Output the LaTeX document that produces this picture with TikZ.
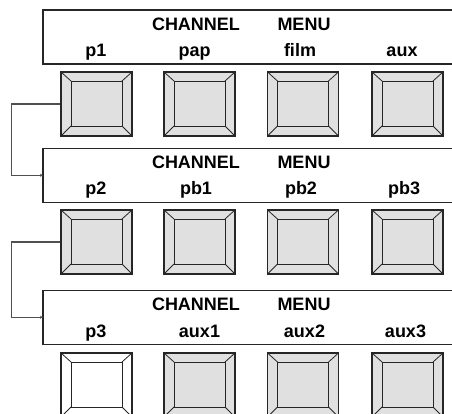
\documentclass[tikz,border=0pt]{standalone}
\usepackage{fontspec}
\setmainfont{Liberation Sans}
\usetikzlibrary{arrows.meta}
\definecolor{btnfill}{HTML}{E0E0E0}
\definecolor{linegray}{HTML}{505050}
\definecolor{edgecol}{HTML}{262626}
\begin{document}
\begin{tikzpicture}[x=1pt,y=-1pt,
  btn/.style={draw=edgecol, line width=1.2pt, fill=btnfill, minimum width=71pt,
    minimum height=64pt, inner sep=0pt,
    path picture={
      \draw[line width=0.8pt, edgecol]
        ([shift={(10pt,10pt)}]path picture bounding box.south west) rectangle
        ([shift={(-10pt,-9pt)}]path picture bounding box.north east);
      \draw[line width=0.8pt, edgecol]
        (path picture bounding box.south west) -- ++(10pt,10pt)
        (path picture bounding box.south east) -- ++(-10pt,10pt)
        (path picture bounding box.north west) -- ++(10pt,-9pt)
        (path picture bounding box.north east) -- ++(-10pt,-9pt);
    }},
  whitebtn/.style={btn, fill=white},
  lbl/.style={font=\fontsize{18}{20}\selectfont\bfseries, anchor=base, inner sep=0pt},
  panelbox/.style={inner sep=0pt, minimum width=412pt, minimum height=53.5pt, anchor=north west},
  panelline/.style={draw=edgecol, line width=1.2pt},
  conn/.style={draw=linegray, line width=1.1pt, -{Stealth[length=3pt,width=3pt]}}]
\useasboundingbox (0,0) rectangle (452,413);

% panels
\node[panelbox] (pan1) at (43,10) {};
\node[panelbox] (pan2) at (43,148.3) {};
\node[panelbox] (pan3) at (43,290.3) {};
\foreach \p in {pan1,pan2,pan3}{
  \draw[panelline] (\p.north east) -- (\p.north west) -- (\p.south west) -- (\p.south east);
}

% panel texts
\node[lbl] (t1c) at (196,30.5) {CHANNEL};
\node[lbl] (t1m) at (304,30.5) {MENU};
\node[lbl] (t1a) at (96,56.5) {p1};
\node[lbl] (t1b) at (194.5,56.5) {pap};
\node[lbl] (t1d) at (300,56.5) {film};
\node[lbl] (t1e) at (402,56.5) {aux};

\node[lbl] (t2c) at (196,168.8) {CHANNEL};
\node[lbl] (t2m) at (304,168.8) {MENU};
\node[lbl] (t2a) at (96,194.8) {p2};
\node[lbl] (t2b) at (196,194.8) {pb1};
\node[lbl] (t2d) at (301,194.8) {pb2};
\node[lbl] (t2e) at (404,194.8) {pb3};

\node[lbl] (t3c) at (196,310.8) {CHANNEL};
\node[lbl] (t3m) at (304,310.8) {MENU};
\node[lbl] (t3a) at (96,337) {p3};
\node[lbl] (t3b) at (199.5,337) {aux1};
\node[lbl] (t3d) at (304.5,337) {aux2};
\node[lbl] (t3e) at (405.5,337) {aux3};

% buttons
\node[btn] (b11) at (96.5,104) {};
\node[btn] (b12) at (199.5,104) {};
\node[btn] (b13) at (303,104) {};
\node[btn] (b14) at (407.5,104) {};
\node[btn] (b21) at (96.5,242) {};
\node[btn] (b22) at (199.5,242) {};
\node[btn] (b23) at (303,242) {};
\node[btn] (b24) at (407.5,242) {};
\node[whitebtn] (b31) at (96.5,385) {};
\node[btn] (b32) at (199.5,385) {};
\node[btn] (b33) at (303,385) {};
\node[btn] (b34) at (407.5,385) {};

% connectors
\draw[conn] (b11.west) -- ++(-49,0) |- (pan2.west);
\draw[conn] (b21.west) -- ++(-49,0) |- (pan3.west);
\end{tikzpicture}
\end{document}
